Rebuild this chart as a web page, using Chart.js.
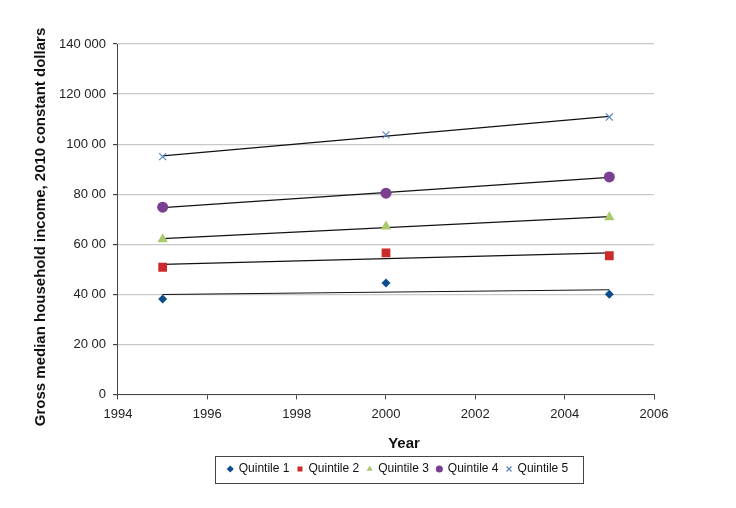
<!DOCTYPE html>
<html>
<head>
    <title>Household income by quintile</title>
    <script src="https://cdn.jsdelivr.net/npm/chart.js"></script>
    <style>
        html, body { margin: 0; padding: 0; background: #fff; }
        #wrap { width: 736px; height: 508px; }
    </style>
</head>
<body>
    <div id="wrap"><canvas id="chart"></canvas></div>

    <script>
        // Data
        const years = [1995, 2000, 2005];
        const quintile1 = [38100, 44500, 40000];
        const quintile2 = [50800, 56500, 55400];
        const quintile3 = [62000, 67100, 70800];
        const quintile4 = [74800, 80400, 86900];
        const quintile5 = [95000, 103700, 110800];

        const seriesNames = ['Quintile 1', 'Quintile 2', 'Quintile 3', 'Quintile 4', 'Quintile 5'];
        const seriesColors = ['#0c4e8c', '#cc2b2b', '#a9c96b', '#7a3f91', '#5b86bf'];
        const seriesShapes = ['rectRot', 'rect', 'triangle', 'circle', 'crossRot'];
        const seriesRadius = [4.5, 6.2, 6, 5.5, 5];

        // tick labels as printed (some are cut short in the original)
        const yTickLabels = ['0', '20 00', '40 00', '60 00', '80 00', '100 00', '120 000', '140 000'];

        const xTitle = 'Year';
        const yTitle = 'Gross median household income, 2010 constant dollars';

        const allSeries = [quintile1, quintile2, quintile3, quintile4, quintile5];
        const FONT = "'Liberation Sans', Arial, sans-serif";

        // least squares trend line, drawn only across the data years
        function trend(ys) {
            const n = years.length;
            const mx = years.reduce((a, b) => a + b, 0) / n;
            const my = ys.reduce((a, b) => a + b, 0) / n;
            let sxy = 0, sxx = 0;
            for (let i = 0; i < n; i++) {
                sxy += (years[i] - mx) * (ys[i] - my);
                sxx += (years[i] - mx) * (years[i] - mx);
            }
            const b = sxy / sxx;
            const x0 = years[0], x1 = years[n - 1];
            return [{ x: x0, y: my + b * (x0 - mx) }, { x: x1, y: my + b * (x1 - mx) }];
        }

        const datasets = [];
        allSeries.forEach((ys, i) => {
            datasets.push({
                type: 'line',
                label: 'trend' + i,
                data: trend(ys),
                borderColor: '#111',
                borderWidth: 1.2,
                pointRadius: 0,
                fill: false,
                order: 2
            });
        });
        allSeries.forEach((ys, i) => {
            datasets.push({
                type: 'scatter',
                label: seriesNames[i],
                data: ys.map((v, j) => ({ x: years[j], y: v })),
                backgroundColor: seriesColors[i],
                borderColor: seriesColors[i],
                borderWidth: seriesShapes[i] === 'crossRot' ? 1.2 : 0,
                pointStyle: seriesShapes[i],
                pointRadius: seriesRadius[i],
                order: 1
            });
        });

        function legendBounds(boxes) {
            let l = Infinity, r = -Infinity, t = Infinity, b = -Infinity;
            boxes.forEach(h => {
                l = Math.min(l, h.left); r = Math.max(r, h.left + h.width);
                t = Math.min(t, h.top); b = Math.max(b, h.top + h.height);
            });
            return { l, r, t, b };
        }

        // moves the legend under the plot, frames it and draws the axis titles
        const extras = {
            id: 'extras',
            beforeDraw(chart) {
                const lg = chart.legend;
                const boxes = lg.legendHitBoxes;
                if (!boxes || !boxes.length) return;
                const bb = legendBounds(boxes);
                const dx = Math.round(398 - (bb.l + bb.r) / 2);
                const dy = Math.round(469 - (bb.t + bb.b) / 2);
                lg.left += dx; lg.right += dx; lg.top += dy; lg.bottom += dy;
                boxes.forEach(h => { h.left += dx; h.top += dy; });
            },
            afterDraw(chart) {
                const ctx = chart.ctx;
                const bb = legendBounds(chart.legend.legendHitBoxes);
                const cy = (bb.t + bb.b) / 2;
                ctx.save();
                ctx.strokeStyle = '#444';
                ctx.lineWidth = 1;
                ctx.strokeRect(Math.round(bb.l - 13) + 0.5, Math.round(cy - 13) + 0.5, Math.round(bb.r - bb.l + 28), 27);

                ctx.fillStyle = '#111';
                ctx.font = 'bold 15px ' + FONT;
                ctx.textAlign = 'center';
                ctx.textBaseline = 'middle';
                ctx.fillText(xTitle, 404, 444);
                ctx.translate(41, 227);
                ctx.rotate(-Math.PI / 2);
                ctx.fillText(yTitle, 0, 0);
                ctx.restore();
            }
        };

        const chart = new Chart(document.getElementById('chart'), {
            data: { datasets: datasets },
            options: {
                responsive: true,
                maintainAspectRatio: false,
                animation: false,
                layout: { padding: { left: 34, right: 82, top: 44, bottom: 15 } },
                plugins: {
                    tooltip: { enabled: false },
                    legend: {
                        position: 'bottom',
                        labels: {
                            filter: item => !item.text.startsWith('trend'),
                            usePointStyle: true,
                            boxWidth: 5,
                            boxHeight: 5,
                            padding: 8,
                            color: '#111',
                            font: { family: FONT, size: 12 }
                        }
                    }
                },
                scales: {
                    x: {
                        type: 'linear',
                        min: 1994,
                        max: 2006,
                        ticks: {
                            stepSize: 2,
                            color: '#222',
                            padding: 7,
                            font: { family: FONT, size: 13 },
                            callback: v => String(v)
                        },
                        grid: { drawOnChartArea: false, drawTicks: true, tickLength: 5, color: '#444' },
                        border: { color: '#444' },
                        // space is kept here, the text itself is drawn by the extras plugin
                        title: {
                            display: true,
                            text: xTitle,
                            color: 'rgba(0,0,0,0)',
                            padding: { top: 8, bottom: 8 },
                            font: { family: FONT, size: 15, weight: 'bold' }
                        }
                    },
                    y: {
                        min: 0,
                        max: 140000,
                        ticks: {
                            stepSize: 20000,
                            color: '#222',
                            padding: 7,
                            font: { family: FONT, size: 13 },
                            callback: v => yTickLabels[Math.round(v / 20000)]
                        },
                        grid: { color: '#c8c8c8', lineWidth: 1.2, drawTicks: true, tickLength: 5, tickColor: '#444' },
                        border: { color: '#444' },
                        title: {
                            display: true,
                            text: yTitle,
                            color: 'rgba(0,0,0,0)',
                            padding: 0,
                            font: { family: FONT, size: 15, weight: 'bold' }
                        }
                    }
                }
            },
            plugins: [extras]
        });
    </script>
</body>
</html>
